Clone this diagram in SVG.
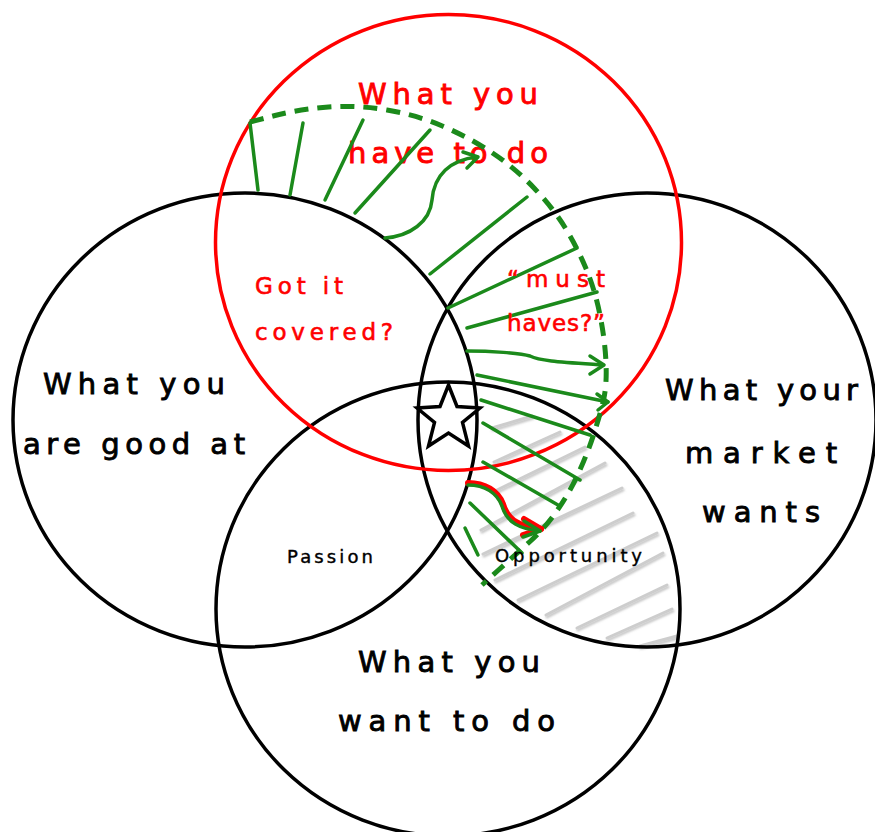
<svg xmlns="http://www.w3.org/2000/svg" width="875" height="832" viewBox="0 0 875 832">
<defs>
<style>
.circ{fill:none;stroke:#000;stroke-width:3.5}
.red{fill:none;stroke:#ff0000;stroke-width:3.5}
.g{fill:none;stroke:#1b8a1b;stroke-width:3.5;stroke-linecap:round;stroke-linejoin:round}
.dash{fill:none;stroke:#1b8a1b;stroke-width:5;stroke-dasharray:14 9}
.hatch{stroke:#cdcdcd;stroke-width:3;stroke-linecap:round}
.t{font-family:"DejaVu Sans","Liberation Sans",sans-serif;font-size:29px;fill:#000;stroke:#000;stroke-width:0.9}
.tr{font-family:"DejaVu Sans","Liberation Sans",sans-serif;font-size:29px;fill:#ff0000;stroke:#ff0000;stroke-width:0.9}
.ts{font-family:"DejaVu Sans","Liberation Sans",sans-serif;font-size:18px;fill:#000;stroke:#000;stroke-width:0.4}
.trs{font-family:"DejaVu Sans","Liberation Sans",sans-serif;font-size:23px;fill:#ff0000;stroke:#ff0000;stroke-width:0.6}
</style>
<filter id="sh" x="-10%" y="-50%" width="130%" height="250%">
<feDropShadow dx="1" dy="2" stdDeviation="1" flood-color="#888" flood-opacity="0.5"/>
</filter>
</defs>
<rect width="875" height="832" fill="#fff"/>

<g id="hatching" filter="url(#sh)">
<line class="hatch" x1="492" y1="428" x2="532" y2="416"/>
<line class="hatch" x1="494" y1="462" x2="560" y2="432"/>
<line class="hatch" x1="497" y1="490" x2="585" y2="447"/>
<line class="hatch" x1="481" y1="530" x2="605" y2="463"/>
<line class="hatch" x1="483" y1="554" x2="622" y2="488"/>
<line class="hatch" x1="495" y1="580" x2="633" y2="513"/>
<line class="hatch" x1="518" y1="600" x2="657" y2="533"/>
<line class="hatch" x1="546" y1="615" x2="663" y2="553"/>
<line class="hatch" x1="577" y1="628" x2="667" y2="585"/>
<line class="hatch" x1="607" y1="638" x2="672" y2="609"/>
<line class="hatch" x1="640" y1="646" x2="677" y2="636"/>
</g>

<g id="node-good-at">
<ellipse class="circ" cx="245" cy="420" rx="232" ry="227"/>
<text class="t" x="43" y="394" textLength="182">What you</text>
<text class="t" x="23" y="454" textLength="222">are good at</text>
</g>

<g id="node-market">
<ellipse class="circ" cx="647" cy="420" rx="229" ry="227"/>
<text class="t" x="665" y="400" textLength="193">What your</text>
<text class="t" x="685" y="463" textLength="152">market</text>
<text class="t" x="702" y="522" textLength="118">wants</text>
</g>

<g id="node-want-to-do">
<ellipse class="circ" cx="448" cy="609" rx="232" ry="227"/>
<text class="t" x="358" y="672" textLength="182">What you</text>
<text class="t" x="338" y="731" textLength="217">want to do</text>
</g>

<g id="node-have-to-do">
<ellipse class="red" cx="448.5" cy="242.5" rx="233" ry="228"/>
<text class="tr" x="358" y="104" textLength="180">What you</text>
<text class="tr" x="348" y="163" textLength="200">have to do</text>
</g>

<g id="node-got-it-covered">
<text class="trs" x="255" y="294" textLength="88">Got it</text>
<text class="trs" x="255" y="340" textLength="138">covered?</text>
</g>

<g id="node-passion">
<text class="ts" x="287" y="563" textLength="86">Passion</text>
</g>

<g id="connectors">
<path class="dash" d="M250,122 L275,115.5 Q300,109 328.5,107 Q357,105 387,110 Q417,115 443.5,126.5 Q470,138 492.5,153 Q515,168 534,188 Q553,208 565,227.5 Q577,247 586,268.5 Q595,290 600,315 Q605,340 606,362.5 Q607,385 603.5,400 Q600,415 594,433.5 Q588,452 579,472 Q570,492 557.5,510 Q545,528 530,541.5 Q515,555 498.5,570 L482,585"/>
<line class="g" x1="250" y1="123" x2="258" y2="190"/>
<line class="g" x1="303" y1="123" x2="290" y2="195"/>
<line class="g" x1="363" y1="120" x2="325" y2="200"/>
<line class="g" x1="430" y1="130" x2="355" y2="213"/>
<path class="g" d="M385,238 C410,236 430,222 432,200 C434,175 450,160 477,157"/>
<path class="g" d="M463,152 L478,157 L467,168"/>
<line class="g" x1="527" y1="197" x2="430" y2="274"/>
<line class="g" x1="448" y1="308" x2="577" y2="248"/>
<line class="g" x1="467" y1="328" x2="597" y2="292"/>
<path class="g" d="M467,351 C490,351 520,353 530,356 C540,361 560,362 603,365"/>
<path class="g" d="M590,356 L604,365 L590,374"/>
<line class="g" x1="477" y1="375" x2="608" y2="402"/>
<path class="g" d="M597,394 L608,402 L598,410"/>
<line class="g" x1="481" y1="400" x2="590" y2="435"/>
<line class="g" x1="483" y1="423" x2="580" y2="480"/>
<line class="g" x1="483" y1="462" x2="558" y2="505"/>
<path d="M468,483 C485,483 498,491 503,504 C508,521 521,527 541,529" fill="none" stroke="#ff0000" stroke-width="6" stroke-linecap="round"/>
<path d="M524,519 L541,529 L523,535" fill="none" stroke="#ff0000" stroke-width="6" stroke-linecap="round" stroke-linejoin="round"/>
<path class="g" d="M468,485 C485,485 497,493 502,506 C507,523 520,529 540,531"/>
<path class="g" d="M524,521 L540,531 L523,537"/>
<line class="g" x1="470" y1="503" x2="522" y2="553"/>
<line class="g" x1="465" y1="528" x2="478" y2="555"/>
</g>

<g id="node-must-haves">
<text class="trs" x="507" y="287" textLength="98">“must</text>
<text class="trs" x="507" y="331" textLength="98">haves?”</text>
</g>

<g id="node-opportunity">
<text class="ts" x="495" y="562" textLength="147">Opportunity</text>
</g>

<g id="node-star">
<polygon points="448.5,385 457,406.5 480,408 462.5,422.5 468.5,446 448.5,433 428.5,446 434.5,422.5 417,408 440,406.5" fill="#fff" stroke="#000" stroke-width="3.5" stroke-linejoin="miter"/>
</g>
</svg>
